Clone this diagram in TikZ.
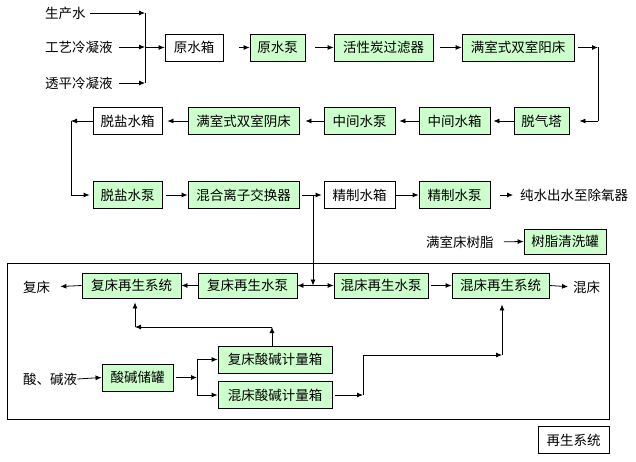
\documentclass[tikz,border=0pt]{standalone}
\usepackage{fontspec}
\setmainfont{Noto Sans CJK SC}
\usetikzlibrary{arrows.meta}
\definecolor{gfill}{HTML}{CCFFCC}
\tikzset{
  base/.style={draw=black, line width=0.8pt, inner sep=0pt, minimum height=27pt, font=\fontsize{13.5}{15}\selectfont},
  gbox/.style={base, fill=gfill},
  wbox/.style={base, fill=white},
  lbl/.style={inner sep=0pt, font=\fontsize{13.5}{15}\selectfont},
  arr/.style={line width=0.8pt, -{Latex[length=6pt,width=5pt]}},
  ln/.style={line width=0.8pt},
}
\begin{document}
\begin{tikzpicture}[x=1pt,y=-1pt]
\useasboundingbox (0,0) rectangle (636,462);
% row 1
\node[lbl, anchor=west] (t1) at (45,13) {生产水};
\node[lbl, anchor=west] (t2) at (45,47) {工艺冷凝液};
\node[lbl, anchor=west] (t3) at (45,83) {透平冷凝液};
\node[wbox, minimum width=58pt] (yxs) at (194,47.5) {原水箱};
\node[gbox, minimum width=55pt] (yxb) at (277.5,47.5) {原水泵};
\node[gbox, minimum width=99pt] (hxt) at (383.5,47.5) {活性炭过滤器};
\node[gbox, minimum width=112pt] (yc) at (518,47.5) {满室式双室阳床};
% row 2
\node[gbox, minimum width=55pt] (tqt) at (541.5,121) {脱气塔};
\node[gbox, minimum width=71pt] (zjx) at (454.5,121) {中间水箱};
\node[gbox, minimum width=71pt] (zjb) at (359.5,121) {中间水泵};
\node[gbox, minimum width=111pt] (ync) at (243.5,121) {满室式双室阴床};
\node[wbox, minimum width=69pt] (tyx) at (127.5,121) {脱盐水箱};
% row 3
\node[gbox, minimum width=69pt] (tyb) at (127.5,195) {脱盐水泵};
\node[gbox, minimum width=111pt] (hh) at (243.5,195) {混合离子交换器};
\node[wbox, minimum width=71pt] (jzx) at (359.5,195) {精制水箱};
\node[gbox, minimum width=71pt] (jzb) at (454.5,195) {精制水泵};
\node[lbl, anchor=west] (cs) at (520,195) {纯水出水至除氧器};
\node[lbl, anchor=west] (szt) at (426,242) {满室床树脂};
\node[gbox, minimum width=82pt, minimum height=25pt] (szq) at (565,241.5) {树脂清洗罐};
% regeneration frame
\draw[ln] (7,263) rectangle (609,419);
\node[wbox, minimum width=71pt] (zs) at (573.5,440) {再生系统};
\node[lbl, anchor=west] (fc) at (23,287) {复床};
\node[gbox, minimum width=99pt, minimum height=25pt] (fcx) at (131.5,285.5) {复床再生系统};
\node[gbox, minimum width=99pt, minimum height=25pt] (fcb) at (247.5,285.5) {复床再生水泵};
\node[gbox, minimum width=94pt, minimum height=25pt] (hcb) at (381,285.5) {混床再生水泵};
\node[gbox, minimum width=97pt, minimum height=25pt] (hcx) at (500.5,285.5) {混床再生系统};
\node[lbl, anchor=west] (hc) at (573,287) {混床};
\node[lbl, anchor=west] (sj) at (23,379) {酸、碱液};
\node[gbox, minimum width=71pt] (sjg) at (137.5,377.5) {酸碱储罐};
\node[gbox, minimum width=114pt] (fjl) at (275,359.5) {复床酸碱计量箱};
\node[gbox, minimum width=114pt] (hjl) at (275,395) {混床酸碱计量箱};
% coordinates
\coordinate (j0a) at (145,13);
\coordinate (j0b) at (145,47.5);
\coordinate (j0c) at (145,83);
\coordinate (c1) at (598,47.5);
\coordinate (c2) at (598,121);
\coordinate (c3) at (71,121);
\coordinate (c4) at (71,195);
\coordinate (j1) at (313,195);
\coordinate (j2) at (313,285.5);
\coordinate (k0) at (197,377.5);
\coordinate (k1) at (197,359.5);
\coordinate (k2) at (197,395);
\coordinate (m1) at (272,327);
\coordinate (m2) at (135,327);
\coordinate (n1) at (363,395);
\coordinate (n2) at (363,355);
\coordinate (n3) at (502,355);
% row 1 connectors
\draw[arr, shorten <=4pt] (t1.east) -- (j0a);
\draw[arr, shorten <=6pt] (t2.east) -- (145,47);
\draw[arr, shorten <=6pt] (t3.east) -- (j0c);
\draw[ln] (j0a) -- (j0c);
\draw[arr] (j0b) -- (yxs.west);
\draw[arr, shorten <=16pt] (yxs.east) -- (yxb.west);
\draw[arr, shorten <=10pt] (yxb.east) -- (hxt.west);
\draw[arr, shorten <=7pt] (hxt.east) -- (yc.west);
\draw[arr, shorten <=4pt] (yc.east) -- (c1);
\draw[ln] (c1) -- (c2);
\draw[arr, shorten >=10pt] (c2) -- (tqt.east);
% row 2 connectors
\draw[arr, shorten >=3pt] (tqt.west) -- (zjx.east);
\draw[arr, shorten >=4pt] (zjx.west) -- (zjb.east);
\draw[arr, shorten >=6pt] (zjb.west) -- (ync.east);
\draw[arr, shorten >=5pt] (ync.west) -- (tyx.east);
\draw[arr] (tyx.west) -- (c3);
\draw[ln] (c3) -- (c4);
\draw[arr, shorten >=3pt] (c4) -- (tyb.west);
% row 3 connectors
\draw[arr, shorten <=4pt] (tyb.east) -- (hh.west);
\draw[ln, shorten <=3pt] (hh.east) -- (j1);
\draw[arr, shorten >=2pt] (j1) -- (jzx.west);
\draw[arr] (jzx.east) -- (jzb.west);
\draw[arr, shorten <=10pt, shorten >=7pt] (jzb.east) -- (cs.west);
\draw[arr, shorten <=10pt] (szt.east) -- (szq.west);
\draw[arr] (j1) -- (j2);
\draw[arr] (j2) -- (fcb.east);
\draw[arr] (j2) -- (hcb.west);
\draw[arr] (fcb.west) -- (fcx.east);
\draw[arr, shorten >=10pt] (fcx.west) -- (fc.east);
\draw[arr, shorten <=3pt] (hcb.east) -- (hcx.west);
\draw[arr, shorten >=5pt] (hcx.east) -- (hc.west);
% acid / alkali
\draw[arr] (sj.east) -- (sjg.west);
\draw[arr, shorten <=3pt] (sjg.east) -- (k0);
\draw[ln] (k1) -- (k2);
\draw[arr] (k1) -- (fjl.west);
\draw[arr] (k2) -- (hjl.west);
\draw[arr] (fjl.north -| m1) -- (m1);
\draw[arr] (m1) -- (m2);
\draw[arr, shorten >=4pt] (m2) -- (fcx.south -| m2);
\draw[arr, shorten <=3pt] (hjl.east) -- (n1);
\draw[ln] (n1) -- (n2);
\draw[arr] (n2) -- (n3);
\draw[arr, shorten >=6pt] (n3) -- (hcx.south -| n3);
\end{tikzpicture}
\end{document}
